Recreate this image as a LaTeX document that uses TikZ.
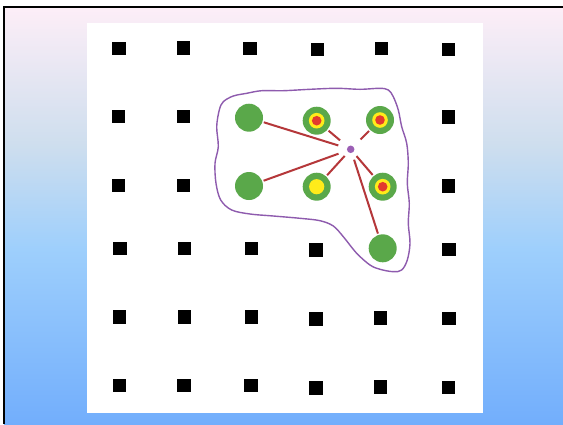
\documentclass[tikz,border=0pt]{standalone}
\usepackage{tikz}
\usetikzlibrary{positioning}

\definecolor{bgpink}{RGB}{253,238,247}
\definecolor{bgmist}{RGB}{206,222,238}
\definecolor{bgsky}{RGB}{158,207,252}
\definecolor{bgblue}{RGB}{114,174,252}
\definecolor{discgreen}{RGB}{90,168,74}
\definecolor{ringyellow}{RGB}{255,235,26}
\definecolor{ringred}{RGB}{226,59,46}
\definecolor{linkred}{RGB}{181,55,58}
\definecolor{hubpurple}{RGB}{155,95,181}
\definecolor{blobpurple}{RGB}{142,91,174}

\pgfdeclareverticalshading{skyfade}{100bp}{color(0bp)=(bgblue); color(25bp)=(bgblue); color(46bp)=(bgsky); color(58.5bp)=(bgmist); color(75bp)=(bgpink); color(100bp)=(bgpink)}

\begin{document}
\begin{tikzpicture}[x=1pt,y=-1pt,
    peg/.style={fill=black,inner sep=0pt,minimum size=13.5pt},
    disc/.style={circle,fill=discgreen,inner sep=0pt,minimum size=28pt,outer sep=1.5pt},
    ring/.style={disc,path picture={
        \fill[ringyellow] (path picture bounding box.center) circle (7.8);
        \fill[ringred] (path picture bounding box.center) circle (4.8);}},
    yolk/.style={disc,path picture={
        \fill[ringyellow] (path picture bounding box.center) circle (7.6);}},
    hub/.style={circle,fill=hubpurple,inner sep=0pt,minimum size=7.5pt},
    link/.style={draw=linkred,line width=2pt,shorten <=5pt}]
    \useasboundingbox (0,0) rectangle (563,424);
    % backdrop
    \shade[shading=skyfade] (4,7) rectangle (563,424);
    \draw[line width=2.5pt] (4,424) -- (4,7) -- (563,7);
    \fill[white] (87,23) rectangle (483,413);
    % grid of pegs
    \foreach \px/\py [count=\i] in {
        119/48.7, 183.3/48, 250/48.7, 317.3/49.5, 381.7/48.7, 448.3/49.3,
        118.5/116.7, 183.3/116.7, 448.3/117,
        118.5/185.3, 183.3/185.3, 448.3/186,
        120/248.7, 184.3/248.7, 251.5/248.7, 316/250, 449/249.5,
        119.5/317, 184.3/317, 251.5/317, 316/319, 380.5/318, 449/318.5,
        119.5/385.7, 184/385.7, 251/385.7, 316/388, 380.5/387, 448.5/387.5}
      \node[peg] (s\i) at (\px,\py) {};
    % cluster outline
    \draw[blobpurple,line width=1.4pt] plot[smooth cycle,tension=0.55] coordinates {
        (223.3,101.7) (233.3,96) (246.7,93.3) (261.7,90.7) (283.3,90.7)
        (310,89.3) (336.7,88.3) (360,89.3) (380,88.3) (388.3,90)
        (393.3,96.7) (398.3,110) (401.7,126.7) (406.7,143.3) (408.3,163.3)
        (407.3,183.3) (409.3,203.3) (408.3,223.3) (410,243.3) (407.3,260)
        (401.7,270) (393.3,271.7) (380,269.3) (370,265) (356.7,253.3)
        (343.3,236.7) (333.3,226) (320,220.7) (300,218.3) (273.3,216)
        (250,214) (231.7,210) (220.7,200) (216,183.3) (215,163.3)
        (218.3,146.7) (216.7,126.7) (219.3,110)};
    % discs
    \node[disc] (a1) at (249,117.7) {};
    \node[ring] (a2) at (316.7,120.7) {};
    \node[ring] (a3) at (380,120) {};
    \node[disc] (b1) at (249,186) {};
    \node[yolk] (b2) at (316.7,186.7) {};
    \node[ring] (b3) at (382.7,186.7) {};
    \node[disc] (c3) at (382.7,248.3) {};
    \node[hub] (hub) at (350.7,149.3) {};
    % links from the hub
    \draw[link,shorten <=9pt] (hub) -- (a1);
    \draw[link,shorten <=10pt] (hub) -- (a2);
    \draw[link,shorten <=10pt] (hub) -- (a3);
    \draw[link,shorten <=9pt] (hub) -- (b1);
    \draw[link] (hub) -- (b2);
    \draw[link] (hub) -- (b3);
    \draw[link,shorten <=7pt] (hub) -- (c3);
\end{tikzpicture}
\end{document}
